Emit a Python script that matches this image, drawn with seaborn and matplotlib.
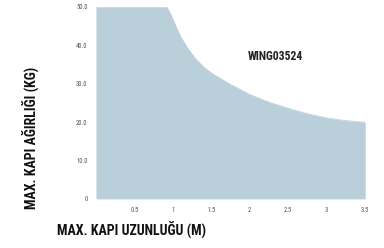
import numpy as np
import pandas as pd
import matplotlib
matplotlib.use("Agg")
import matplotlib.pyplot as plt
import seaborn as sns
from matplotlib import font_manager

# data
door_length = [0.0, 0.92, 0.97, 1.0, 1.05, 1.1, 1.2, 1.3, 1.4, 1.5, 1.75, 2.0, 2.25, 2.5, 2.75, 3.0, 3.25, 3.5]
door_weight = [50.0, 50.0, 48.2, 46.8, 44.4, 42.3, 39.0, 36.4, 34.4, 32.8, 29.8, 27.2, 25.2, 23.6, 22.2, 21.1, 20.4, 20.0]
x_ticks = [0.5, 1, 1.5, 2, 2.5, 3, 3.5]
x_tick_labels = ["0.5", "1", "1.5", "2", "2.5", "3", "3.5"]
y_ticks = [0, 10, 20, 30, 40, 50]
y_tick_labels = ["0", "10.0", "20.0", "30.0", "40.0", "50.0"]
model_name = "WING03524"

sns.set_theme(style="white")
installed = {f.name for f in font_manager.fontManager.ttflist}
narrow = [n for n in ["DejaVu Sans Condensed", "Liberation Sans Narrow", "Roboto Condensed",
                      "Open Sans Condensed"] if n in installed]
plt.rcParams['font.family'] = narrow + ['DejaVu Sans']
label_font = narrow[0] if narrow else 'DejaVu Sans'
label_size = 10 if narrow else 8

df = pd.DataFrame({"length": door_length, "weight": door_weight})

fig = plt.figure(figsize=(3.84, 2.48), dpi=100)
ax = fig.add_axes([0.25, 0.198, 0.701, 0.774])

fill_color = "#b9cfd9"
sns.lineplot(data=df, x="length", y="weight", ax=ax, color=fill_color, linewidth=0.5)
ax.fill_between(df["length"], 0, df["weight"], color=fill_color, linewidth=0)

ax.set_xlim(0, 3.5)
ax.set_ylim(0, 50)
ax.set_xticks(x_ticks)
ax.set_xticklabels(x_tick_labels)
ax.set_yticks(y_ticks)
ax.set_yticklabels(y_tick_labels)
ax.tick_params(axis="both", labelsize=4.8, colors="#555555", length=0, pad=6)
for s in ax.spines.values():
    s.set_visible(False)
ax.set_xlabel("")
ax.set_ylabel("")

ax.text(0.665, 0.74, model_name, transform=ax.transAxes, fontsize=8.5, fontweight="bold",
        color="#222222", ha="center", va="center", family=label_font)

fig.text(0.082, 0.443, "MAX. KAPI AĞIRLIĞI (KG)", rotation=90, fontsize=label_size, fontweight="bold",
         color="#111111", ha="center", va="center", family=label_font)
fig.text(0.148, 0.073, "MAX. KAPI UZUNLUĞU (M)", fontsize=label_size, fontweight="bold",
         color="#111111", ha="left", va="center", family=label_font)

fig.savefig("out.png", dpi=100)
